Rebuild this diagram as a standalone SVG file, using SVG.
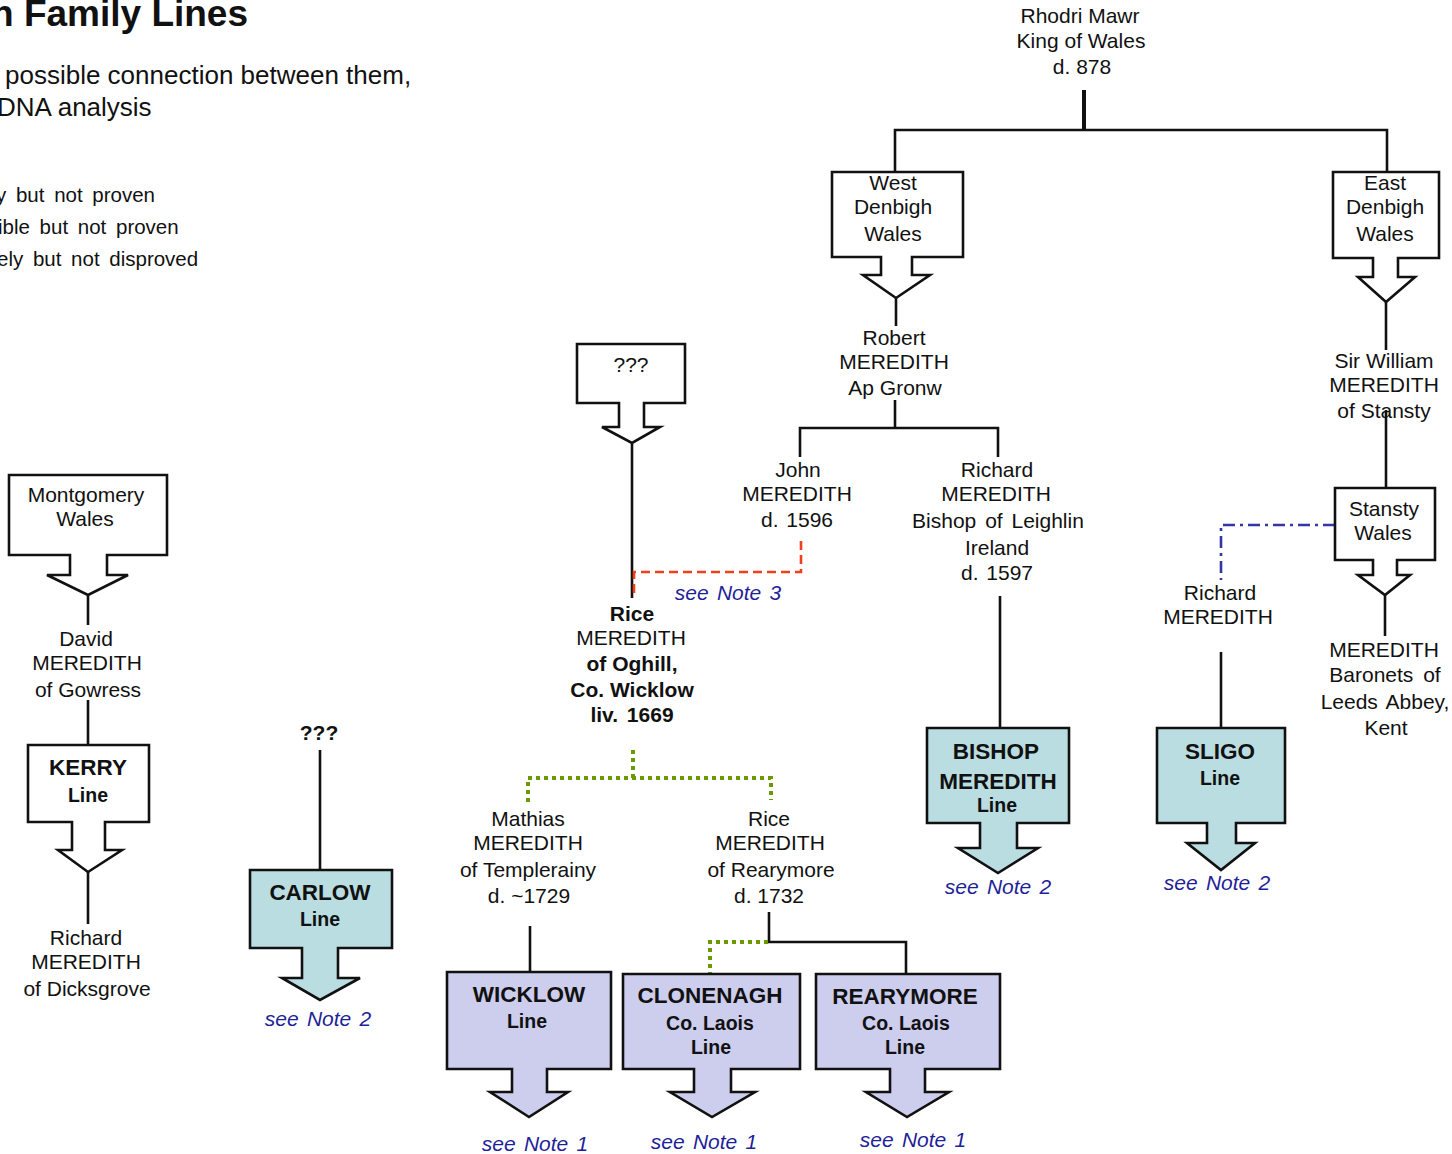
<svg xmlns="http://www.w3.org/2000/svg" width="1452" height="1154" viewBox="0 0 1452 1154">
<style>
text{font-family:"Liberation Sans",Arial,sans-serif;fill:#111}
.t{font-size:21px;text-anchor:middle}
.b{font-weight:bold}
.h{font-size:22.5px;font-weight:bold;text-anchor:middle}
.l{font-size:19.5px;font-weight:bold;text-anchor:middle}
.n{font-size:21px;font-style:italic;fill:#1f1f99;text-anchor:middle;word-spacing:2.5px}
.g{font-size:20.5px;word-spacing:4px}
.box{fill:#fff;stroke:#111;stroke-width:2.6}
.teal{fill:#badde1;stroke:#111;stroke-width:2.6}
.lav{fill:#cdcdee;stroke:#111;stroke-width:2.6}
.c{fill:none;stroke:#111;stroke-width:2.6}
.red{fill:none;stroke:#f0401a;stroke-width:2.6;stroke-dasharray:9 5}
.grn{fill:none;stroke:#6a9a00;stroke-width:4;stroke-dasharray:4 4}
.blu{fill:none;stroke:#3535a8;stroke-width:2.6;stroke-dasharray:12 5 3 5}
</style>
<g id="title">
<text x="-9" y="26" style="font-size:37px;font-weight:bold">n Family Lines</text>
<text x="5" y="84" style="font-size:26px">possible connection between them,</text>
<text x="-3" y="116" style="font-size:26px">DNA analysis</text>
<text class="g" x="-4" y="202">y but not proven</text>
<text class="g" x="-2" y="234">ible but not proven</text>
<text class="g" x="-3" y="266">ely but not disproved</text>
</g>
<g id="connectors">
<line x1="1084" y1="90" x2="1084" y2="130" style="stroke:#111;stroke-width:4"/>
<path class="c" d="M895 171 V130 H1387 V171"/>
<line class="c" x1="896" y1="298" x2="896" y2="326"/>
<path class="c" d="M895 400 V428 M800 457 V428 H998 V457"/>
<line class="c" x1="1000" y1="596" x2="1000" y2="728"/>
<line class="c" x1="1386" y1="302" x2="1386" y2="350"/>
<line class="c" x1="1386" y1="410" x2="1386" y2="488"/>
<line class="c" x1="1385" y1="595" x2="1385" y2="636"/>
<path class="blu" d="M1335 525 H1221 V580"/>
<line class="c" x1="1221" y1="652" x2="1221" y2="728"/>
<line class="c" x1="632" y1="443" x2="632" y2="598"/>
<path class="red" d="M801 541 V572 H634 V598"/>
<path class="grn" d="M633 750 V778 M528 802 V778 H771 V800"/>
<line class="c" x1="530" y1="926" x2="530" y2="972"/>
<path class="c" d="M769 912 V942 H906 V974"/>
<path class="grn" d="M768 942 H710 V974"/>
<line class="c" x1="88" y1="595" x2="88" y2="625"/>
<line class="c" x1="88" y1="700" x2="88" y2="745"/>
<line class="c" x1="88" y1="872" x2="88" y2="924"/>
<line class="c" x1="320" y1="750" x2="320" y2="870"/>
</g>
<g id="rhodri">
<text class="t" x="1080" y="23">Rhodri Mawr</text>
<text class="t" x="1081" y="48">King of Wales</text>
<text class="t" x="1082" y="74">d. 878</text>
</g>
<g id="west-denbigh">
<path class="box" d="M832 172 H963 V257 H912 V275 H930 L896 298 L863 275 H881 V257 H832 Z"/>
<text class="t" x="893" y="190">West</text>
<text class="t" x="893" y="214">Denbigh</text>
<text class="t" x="893" y="241">Wales</text>
</g>
<g id="east-denbigh">
<path class="box" d="M1333 172 H1439 V258 H1398 V277 H1415 L1386 302 L1358 277 H1373 V258 H1333 Z"/>
<text class="t" x="1385" y="190">East</text>
<text class="t" x="1385" y="214">Denbigh</text>
<text class="t" x="1385" y="241">Wales</text>
</g>
<g id="robert">
<text class="t" x="894" y="345">Robert</text>
<text class="t" x="894" y="369">MEREDITH</text>
<text class="t" x="895" y="395">Ap Gronw</text>
</g>
<g id="john">
<text class="t" x="798" y="477">John</text>
<text class="t" x="797" y="501">MEREDITH</text>
<text class="t" x="797" y="527" style="word-spacing:2px">d. 1596</text>
</g>
<g id="richard-bishop">
<text class="t" x="997" y="477">Richard</text>
<text class="t" x="996" y="501">MEREDITH</text>
<text class="t" x="998" y="528" style="word-spacing:3px">Bishop of Leighlin</text>
<text class="t" x="997" y="555">Ireland</text>
<text class="t" x="997" y="580" style="word-spacing:2px">d. 1597</text>
</g>
<g id="sir-william">
<text class="t" x="1384" y="368">Sir William</text>
<text class="t" x="1384" y="392">MEREDITH</text>
<text class="t" x="1384" y="418">of Stansty</text>
</g>
<g id="stansty">
<path class="box" d="M1335 488 H1435 V560 H1397 V575 H1410 L1385 595 L1358 575 H1373 V560 H1335 Z"/>
<text class="t" x="1384" y="516">Stansty</text>
<text class="t" x="1383" y="540">Wales</text>
</g>
<g id="baronets">
<text class="t" x="1384" y="657">MEREDITH</text>
<text class="t" x="1385" y="682" style="word-spacing:4px">Baronets of</text>
<text class="t" x="1385" y="709" style="word-spacing:3px">Leeds Abbey,</text>
<text class="t" x="1386" y="735">Kent</text>
</g>
<g id="richard-sligo">
<text class="t" x="1220" y="600">Richard</text>
<text class="t" x="1218" y="624">MEREDITH</text>
</g>
<g id="unknown-box">
<path class="box" d="M577 344 H685 V403 H644 V427 H660 L632 443 L602 427 H619 V403 H577 Z"/>
<text class="t" x="631" y="372">???</text>
</g>
<g id="note3"><text class="n" x="728" y="600">see Note 3</text></g>
<g id="rice-oghill">
<text class="t b" x="632" y="621">Rice</text>
<text class="t" x="631" y="645">MEREDITH</text>
<text class="t b" x="632" y="671">of Oghill,</text>
<text class="t b" x="632" y="697">Co. Wicklow</text>
<text class="t b" x="632" y="722" style="word-spacing:3px">liv. 1669</text>
</g>
<g id="mathias">
<text class="t" x="528" y="826">Mathias</text>
<text class="t" x="528" y="850">MEREDITH</text>
<text class="t" x="528" y="877">of Templerainy</text>
<text class="t" x="529" y="903">d. ~1729</text>
</g>
<g id="rice-rearymore">
<text class="t" x="769" y="826">Rice</text>
<text class="t" x="770" y="850">MEREDITH</text>
<text class="t" x="771" y="877">of Rearymore</text>
<text class="t" x="769" y="903">d. 1732</text>
</g>
<g id="montgomery">
<path class="box" d="M9 475 H167 V555 H107 V575 H128 L88 595 L47 575 H70 V555 H9 Z"/>
<text class="t" x="86" y="502">Montgomery</text>
<text class="t" x="85" y="526">Wales</text>
</g>
<g id="david">
<text class="t" x="86" y="646">David</text>
<text class="t" x="87" y="670">MEREDITH</text>
<text class="t" x="88" y="697">of Gowress</text>
</g>
<g id="kerry">
<path class="box" d="M28 745 H149 V822 H105 V850 H122 L88 872 L58 850 H72 V822 H28 Z"/>
<text class="h" x="88" y="775">KERRY</text>
<text class="l" x="88" y="802">Line</text>
</g>
<g id="richard-dicksgrove">
<text class="t" x="86" y="945">Richard</text>
<text class="t" x="86" y="969">MEREDITH</text>
<text class="t" x="87" y="996">of Dicksgrove</text>
</g>
<g id="carlow">
<text class="h" x="319" y="740" style="font-size:21px">???</text>
<path class="teal" d="M250 870 H392 V948 H338 V978 H360 L320 1000 L282 978 H302 V948 H250 Z"/>
<text class="h" x="320" y="900">CARLOW</text>
<text class="l" x="320" y="926">Line</text>
<text class="n" x="318" y="1026">see Note 2</text>
</g>
<g id="bishop-meredith">
<path class="teal" d="M927 728 H1069 V823 H1017 V848 H1038 L998 873 L958 848 H980 V823 H927 Z"/>
<text class="h" x="996" y="759">BISHOP</text>
<text class="h" x="998" y="789">MEREDITH</text>
<text class="l" x="997" y="812">Line</text>
<text class="n" x="998" y="894">see Note 2</text>
</g>
<g id="sligo">
<path class="teal" d="M1157 728 H1285 V823 H1236 V843 H1255 L1221 870 L1187 843 H1207 V823 H1157 Z"/>
<text class="h" x="1220" y="759">SLIGO</text>
<text class="l" x="1220" y="785">Line</text>
<text class="n" x="1217" y="890">see Note 2</text>
</g>
<g id="wicklow">
<path class="lav" d="M447 972 H611 V1069 H547 V1092 H568 L529 1117 L490 1092 H512 V1069 H447 Z"/>
<text class="h" x="529" y="1002">WICKLOW</text>
<text class="l" x="527" y="1028">Line</text>
<text class="n" x="535" y="1151">see Note 1</text>
</g>
<g id="clonenagh">
<path class="lav" d="M623 974 H800 V1069 H731 V1092 H755 L712 1117 L670 1092 H694 V1069 H623 Z"/>
<text class="h" x="710" y="1003">CLONENAGH</text>
<text class="l" x="710" y="1030">Co. Laois</text>
<text class="l" x="711" y="1054">Line</text>
<text class="n" x="704" y="1149">see Note 1</text>
</g>
<g id="rearymore">
<path class="lav" d="M816 974 H1000 V1069 H925 V1092 H949 L907 1117 L866 1092 H890 V1069 H816 Z"/>
<text class="h" x="905" y="1004">REARYMORE</text>
<text class="l" x="906" y="1030">Co. Laois</text>
<text class="l" x="905" y="1054">Line</text>
<text class="n" x="913" y="1147">see Note 1</text>
</g>
</svg>
